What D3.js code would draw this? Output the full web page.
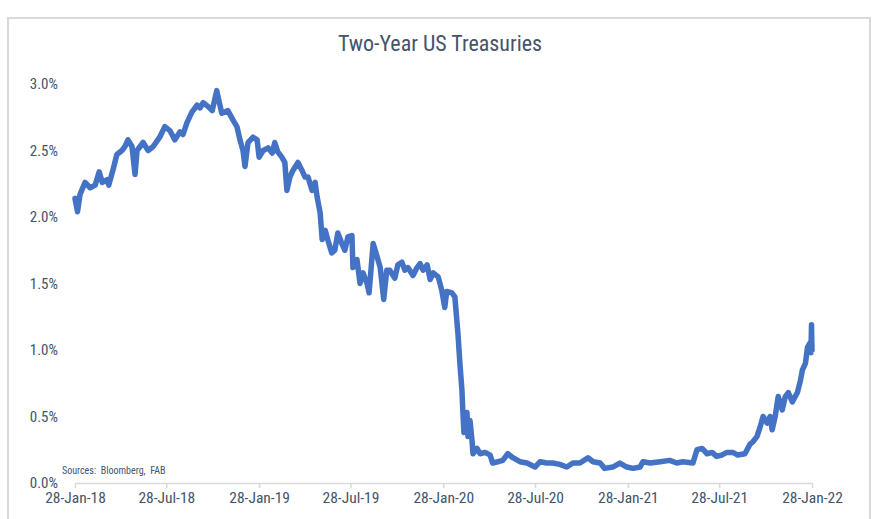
<!DOCTYPE html>
<html>
<head>
<meta charset="utf-8">
<script src="https://cdn.jsdelivr.net/npm/d3@7"></script>
<style>
  html, body { margin: 0; padding: 0; background: #ffffff; }
  svg { display: block; }
</style>
</head>
<body>
<svg id="chart" width="874" height="519"></svg>
<script>
// ---- data ----
const title = "Two-Year US Treasuries";
const sourceNote = "Sources:  Bloomberg,  FAB";
const dates = [
  "2018-01-28","2018-02-02","2018-02-07","2018-02-17","2018-02-27","2018-03-09","2018-03-17","2018-03-23",
  "2018-04-01","2018-04-05","2018-04-13","2018-04-21","2018-05-01","2018-05-07","2018-05-13","2018-05-21",
  "2018-05-27","2018-05-31","2018-06-12","2018-06-22","2018-07-02","2018-07-15","2018-07-25","2018-08-04",
  "2018-08-14","2018-08-24","2018-08-30","2018-09-07","2018-09-17","2018-09-27","2018-10-03","2018-10-09",
  "2018-10-19","2018-10-27","2018-11-05","2018-11-09","2018-11-15","2018-11-27","2018-12-07","2018-12-15",
  "2018-12-21","2018-12-27","2018-12-31","2019-01-06","2019-01-16","2019-01-24","2019-01-28","2019-02-05",
  "2019-02-15","2019-02-23","2019-02-28","2019-03-06","2019-03-14","2019-03-20","2019-03-24","2019-03-30",
  "2019-04-05","2019-04-15","2019-04-23","2019-04-29","2019-05-05","2019-05-13","2019-05-19","2019-05-23",
  "2019-05-29","2019-06-02","2019-06-08","2019-06-13","2019-06-21","2019-06-27","2019-07-03","2019-07-11",
  "2019-07-17","2019-07-23","2019-07-31","2019-08-02","2019-08-10","2019-08-16","2019-08-22","2019-08-30",
  "2019-09-03","2019-09-11","2019-09-19","2019-09-25","2019-10-02","2019-10-08","2019-10-14","2019-10-24",
  "2019-10-30","2019-11-07","2019-11-13","2019-11-19","2019-11-29","2019-12-07","2019-12-13","2019-12-19",
  "2019-12-27","2020-01-02","2020-01-08","2020-01-18","2020-01-25","2020-01-31","2020-02-04","2020-02-14",
  "2020-02-20","2020-02-26","2020-03-01","2020-03-05","2020-03-07","2020-03-09","2020-03-15","2020-03-17",
  "2020-03-21","2020-03-25","2020-03-27","2020-04-04","2020-04-10","2020-04-20","2020-04-30","2020-05-05",
  "2020-05-15","2020-05-25","2020-06-04","2020-06-14","2020-06-28","2020-07-12","2020-07-28","2020-08-07",
  "2020-08-20","2020-09-01","2020-09-15","2020-09-29","2020-10-11","2020-10-25","2020-11-10","2020-11-20",
  "2020-12-04","2020-12-13","2020-12-29","2021-01-12","2021-01-26","2021-02-07","2021-02-21","2021-02-27",
  "2021-03-13","2021-04-02","2021-04-21","2021-05-05","2021-05-17","2021-06-06","2021-06-14","2021-06-24",
  "2021-07-04","2021-07-14","2021-07-23","2021-08-02","2021-08-12","2021-08-24","2021-09-03","2021-09-17",
  "2021-09-27","2021-10-03","2021-10-11","2021-10-17","2021-10-23","2021-10-31","2021-11-06","2021-11-10",
  "2021-11-16","2021-11-22","2021-11-30","2021-12-06","2021-12-12","2021-12-20","2021-12-30","2022-01-05",
  "2022-01-09","2022-01-15","2022-01-19","2022-01-25","2022-01-26","2022-01-27","2022-01-28"
];
const yields = [
  2.14,2.04,2.17,2.26,2.22,2.24,2.34,2.26,
  2.28,2.24,2.35,2.47,2.50,2.53,2.58,2.53,
  2.32,2.50,2.56,2.50,2.53,2.60,2.68,2.65,
  2.58,2.64,2.62,2.71,2.79,2.84,2.82,2.86,
  2.83,2.80,2.95,2.88,2.78,2.80,2.73,2.68,
  2.58,2.50,2.38,2.56,2.60,2.58,2.45,2.50,
  2.52,2.48,2.56,2.49,2.45,2.41,2.20,2.30,
  2.35,2.41,2.35,2.30,2.30,2.20,2.26,2.15,
  2.03,1.83,1.90,1.83,1.73,1.75,1.88,1.80,
  1.75,1.85,1.86,1.62,1.68,1.50,1.58,1.50,
  1.43,1.80,1.70,1.62,1.38,1.60,1.60,1.54,
  1.64,1.66,1.60,1.62,1.56,1.62,1.65,1.60,
  1.64,1.53,1.58,1.55,1.45,1.32,1.44,1.43,
  1.40,1.13,0.90,0.70,0.53,0.38,0.53,0.35,
  0.47,0.32,0.22,0.26,0.22,0.23,0.21,0.15,
  0.16,0.17,0.22,0.19,0.16,0.15,0.12,0.16,
  0.15,0.15,0.14,0.12,0.15,0.15,0.19,0.16,
  0.15,0.11,0.12,0.15,0.12,0.11,0.12,0.16,
  0.15,0.16,0.17,0.15,0.16,0.15,0.25,0.26,
  0.22,0.23,0.20,0.21,0.23,0.23,0.21,0.22,
  0.29,0.31,0.35,0.42,0.50,0.45,0.50,0.40,
  0.50,0.65,0.55,0.65,0.68,0.61,0.68,0.77,
  0.85,0.90,1.02,1.06,0.98,1.19,1.00
];
const xTickDates = ["2018-01-28","2018-07-28","2019-01-28","2019-07-28","2020-01-28","2020-07-28","2021-01-28","2021-07-28","2022-01-28"];
const yTicks = [0, 0.5, 1.0, 1.5, 2.0, 2.5, 3.0];

// ---- drawing ----
const parse = d3.timeParse("%Y-%m-%d");
const data = dates.map((d, i) => ({ date: parse(d), value: yields[i] }));

const svg = d3.select("#chart");
const textColor = "#44546A";
const fontFam = "'Liberation Sans Narrow', 'Roboto Condensed', 'DejaVu Sans Condensed', sans-serif";

// chart frame
svg.append("rect")
  .attr("x", 8).attr("y", 18).attr("width", 862).attr("height", 520)
  .attr("fill", "#ffffff").attr("stroke", "#d9d9d9").attr("stroke-width", 2);

const x = d3.scaleTime()
  .domain([parse("2018-01-28"), parse("2022-01-28")])
  .range([75, 812]);
const y = d3.scaleLinear().domain([0, 3.0]).range([483, 84]);

// title
svg.append("text")
  .attr("x", 440).attr("y", 51)
  .attr("text-anchor", "middle")
  .attr("font-family", fontFam)
  .attr("font-size", 22)
  .attr("fill", textColor)
  .text(title);

// y axis (labels only)
const yAxis = d3.axisLeft(y)
  .tickValues(yTicks)
  .tickFormat(d => d.toFixed(1) + "%")
  .tickSize(0).tickPadding(0);
const gy = svg.append("g").attr("transform", "translate(58,0)").call(yAxis);
gy.select(".domain").remove();
gy.selectAll("text")
  .attr("font-family", fontFam).attr("font-size", 15).attr("fill", textColor);

// x axis
const xAxis = d3.axisBottom(x)
  .tickValues(xTickDates.map(parse))
  .tickFormat(d3.timeFormat("%d-%b-%y"))
  .tickSizeInner(5).tickSizeOuter(0).tickPadding(4);
const gx = svg.append("g").attr("transform", "translate(0,483)").call(xAxis);
gx.select(".domain").attr("stroke", "#d9d9d9").attr("stroke-width", 1.5);
gx.selectAll(".tick line").attr("stroke", "#d9d9d9").attr("stroke-width", 1.5);
gx.selectAll("text")
  .attr("font-family", fontFam).attr("font-size", 15.5).attr("fill", textColor);

// source note
svg.append("text")
  .attr("x", 62).attr("y", 474)
  .attr("font-family", fontFam)
  .attr("font-size", 10)
  .attr("fill", textColor)
  .style("white-space", "pre")
  .text(sourceNote);

// line
const line = d3.line()
  .x(d => x(d.date))
  .y(d => y(d.value));
svg.append("path")
  .datum(data)
  .attr("d", line)
  .attr("fill", "none")
  .attr("stroke", "#4472C4")
  .attr("stroke-width", 5.5)
  .attr("stroke-linejoin", "round")
  .attr("stroke-linecap", "round");
</script>
</body>
</html>
